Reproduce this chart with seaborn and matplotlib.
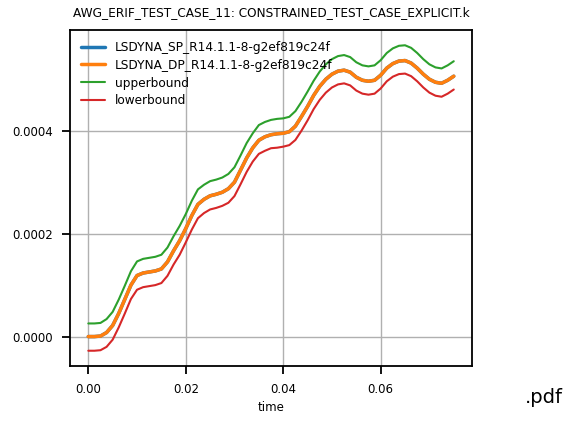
import pandas as pd
import seaborn as sns
import matplotlib.pyplot as plt

# values
time = [0.0, 0.00125, 0.0025, 0.00375, 0.005, 0.00625, 0.0075, 0.00875, 0.01, 0.01125,
        0.0125, 0.01375, 0.015, 0.01625, 0.0175, 0.01875, 0.02, 0.02125, 0.0225, 0.02375,
        0.025, 0.02625, 0.0275, 0.02875, 0.03, 0.03125, 0.0325, 0.03375, 0.035, 0.03625,
        0.0375, 0.03875, 0.04, 0.04125, 0.0425, 0.04375, 0.045, 0.04625, 0.0475, 0.04875,
        0.05, 0.05125, 0.0525, 0.05375, 0.055, 0.05625, 0.0575, 0.05875, 0.06, 0.06125,
        0.0625, 0.06375, 0.065, 0.06625, 0.0675, 0.06875, 0.07, 0.07125, 0.0725, 0.07375, 0.075]
sp = [0.0, 0.0, 0.000001, 0.0000078, 0.0000216, 0.0000451, 0.0000725, 0.0001, 0.0001186, 0.0001235,
      0.0001255, 0.0001275, 0.0001314, 0.0001451, 0.0001667, 0.0001863, 0.0002098, 0.0002353, 0.0002569, 0.0002667,
      0.0002735, 0.0002765, 0.0002804, 0.0002873, 0.0003, 0.0003235, 0.0003471, 0.0003667, 0.0003814, 0.0003882,
      0.0003922, 0.0003941, 0.0003951, 0.000398, 0.0004088, 0.0004275, 0.0004471, 0.0004686, 0.0004863, 0.0005,
      0.0005098, 0.0005157, 0.0005176, 0.0005137, 0.0005039, 0.000498, 0.0004961, 0.000498, 0.0005078, 0.0005216,
      0.0005304, 0.0005353, 0.0005363, 0.0005314, 0.0005216, 0.0005098, 0.0005, 0.0004941, 0.0004922, 0.000498, 0.0005059]
dp = [0.0, 0.0, 0.000001, 0.0000078, 0.0000216, 0.0000451, 0.0000725, 0.0001, 0.0001186, 0.0001235,
      0.0001255, 0.0001275, 0.0001314, 0.0001451, 0.0001667, 0.0001863, 0.0002098, 0.0002353, 0.0002569, 0.0002667,
      0.0002735, 0.0002765, 0.0002804, 0.0002873, 0.0003, 0.0003235, 0.0003471, 0.0003667, 0.0003814, 0.0003882,
      0.0003922, 0.0003941, 0.0003951, 0.000398, 0.0004088, 0.0004275, 0.0004471, 0.0004686, 0.0004863, 0.0005,
      0.0005098, 0.0005157, 0.0005176, 0.0005137, 0.0005039, 0.000498, 0.0004961, 0.000498, 0.0005078, 0.0005216,
      0.0005304, 0.0005353, 0.0005363, 0.0005314, 0.0005216, 0.0005098, 0.0005, 0.0004941, 0.0004922, 0.000498, 0.0005059]
upper = [0.0000255, 0.0000255, 0.0000265, 0.000034, 0.000048, 0.000072, 0.000099, 0.000127, 0.000146, 0.000151,
         0.000153, 0.000155, 0.000159, 0.000173, 0.000195, 0.000215, 0.000238, 0.000264, 0.000286, 0.000295,
         0.000302, 0.000305, 0.000309, 0.000316, 0.000329, 0.000352, 0.000376, 0.000395, 0.000411, 0.000417,
         0.000421, 0.000423, 0.000424, 0.000427, 0.000438, 0.000456, 0.000476, 0.000497, 0.000515, 0.000529,
         0.000539, 0.000545, 0.000547, 0.000543, 0.000533, 0.000527, 0.000525, 0.000527, 0.000537, 0.000551,
         0.00056, 0.000565, 0.000566, 0.000561, 0.000551, 0.000539, 0.000529, 0.000523, 0.000521, 0.000527, 0.000535]
lower = [-0.0000275, -0.0000275, -0.0000265, -0.00002, -0.000006, 0.000018, 0.000045, 0.000073, 0.000091, 0.000096,
         0.000098, 0.0001, 0.000104, 0.000118, 0.00014, 0.000159, 0.000183, 0.000208, 0.00023, 0.00024,
         0.000247, 0.00025, 0.000254, 0.00026, 0.000273, 0.000296, 0.00032, 0.00034, 0.000355, 0.000361,
         0.000366, 0.000367, 0.000369, 0.000372, 0.000382, 0.0004, 0.00042, 0.000442, 0.00046, 0.000474,
         0.000484, 0.00049, 0.000492, 0.000488, 0.000478, 0.000472, 0.00047, 0.000472, 0.000482, 0.000496,
         0.000505, 0.00051, 0.000511, 0.000506, 0.000496, 0.000484, 0.000474, 0.000468, 0.000466, 0.000472, 0.00048]

df = pd.DataFrame({"time": time, "sp": sp, "dp": dp, "upper": upper, "lower": lower})

sns.set_theme(style="ticks", rc={"axes.grid": True, "grid.color": "#b0b0b0", "grid.linewidth": 1.0,
                                 "axes.edgecolor": "black", "axes.linewidth": 1.3,
                                 "xtick.major.width": 1.3, "ytick.major.width": 1.3,
                                 "xtick.major.pad": 6, "ytick.major.pad": 6,
                                 "xtick.color": "black", "ytick.color": "black",
                                 "text.color": "black", "axes.labelcolor": "black",
                                 "font.size": 8.5, "xtick.labelsize": 8.5, "ytick.labelsize": 8.5,
                                 "axes.labelsize": 8.5, "axes.titlesize": 8.7, "legend.fontsize": 8.7})
plt.rcParams["font.family"] = ["DejaVu Sans"]

fig = plt.figure(figsize=(5.67, 4.22), dpi=100)
ax = fig.add_axes([0.1235, 0.1327, 0.709, 0.7962])

sns.lineplot(data=df, x="time", y="sp", ax=ax, color="#1f77b4", linewidth=2.5,
             label="LSDYNA_SP_R14.1.1-8-g2ef819c24f")
sns.lineplot(data=df, x="time", y="dp", ax=ax, color="#ff7f0e", linewidth=2.5,
             label="LSDYNA_DP_R14.1.1-8-g2ef819c24f")
sns.lineplot(data=df, x="time", y="upper", ax=ax, color="#2ca02c", linewidth=1.5, label="upperbound")
sns.lineplot(data=df, x="time", y="lower", ax=ax, color="#d62728", linewidth=1.5, label="lowerbound")

ax.set_xticks([0.0, 0.02, 0.04, 0.06])
ax.set_yticks([0.0, 0.0002, 0.0004])
ax.set_xlabel("time")
ax.set_ylabel("")
ax.set_title("AWG_ERIF_TEST_CASE_11: CONSTRAINED_TEST_CASE_EXPLICIT.k", pad=10)
ax.legend(loc="upper left", frameon=False, labelspacing=0.4)
fig.text(0.925, 0.045, ".pdf", fontsize=14)

fig.savefig("out.png", dpi=100)
